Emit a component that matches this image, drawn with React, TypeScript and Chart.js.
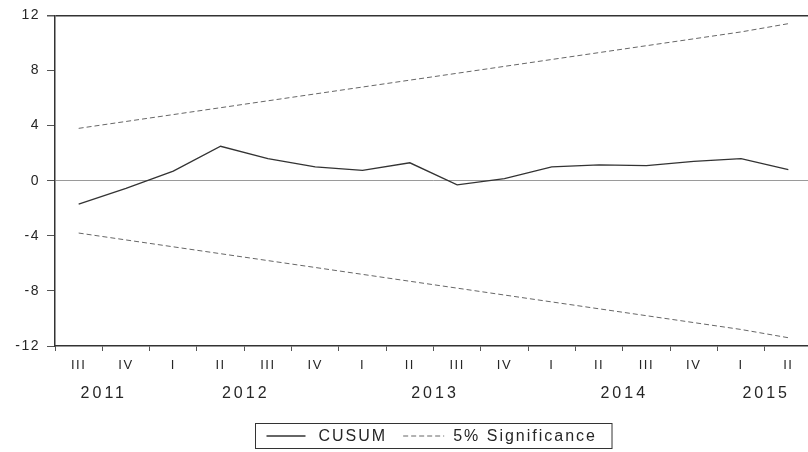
import React, { useEffect, useRef } from 'react';
import { Chart, registerables } from 'chart.js';

Chart.register(...registerables);

// ---- data ----
const years = [2011, 2011, 2012, 2012, 2012, 2012, 2013, 2013, 2013, 2013, 2014, 2014, 2014, 2014, 2015, 2015];
const quarters = ['III', 'IV', 'I', 'II', 'III', 'IV', 'I', 'II', 'III', 'IV', 'I', 'II', 'III', 'IV', 'I', 'II'];
const cusum = [-1.7, -0.55, 0.7, 2.5, 1.6, 1.0, 0.75, 1.3, -0.3, 0.15, 1.0, 1.15, 1.1, 1.4, 1.6, 0.8];
const upper5 = [3.8, 4.3, 4.8, 5.3, 5.8, 6.3, 6.8, 7.3, 7.8, 8.3, 8.8, 9.3, 9.8, 10.3, 10.8, 11.4];
const lower5 = [-3.8, -4.3, -4.8, -5.3, -5.8, -6.3, -6.8, -7.3, -7.8, -8.3, -8.8, -9.3, -9.8, -10.3, -10.8, -11.4];
const yMin = -12;
const yMax = 12;
const yStep = 4;
const seriesNames = ['CUSUM', '5% Significance'];

const FONT = '"Liberation Sans", Arial, Helvetica, sans-serif';
const TEXT = '#262626';

const eviewsPlugin = {
  id: 'eviewsStyle',
  beforeDraw(chart: any) {
    chart.ctx.letterSpacing = '1.5px';
  },
  afterDraw(chart: any) {
    const ctx = chart.ctx as CanvasRenderingContext2D;
    const xs = chart.scales.x;
    const area = chart.chartArea;
    ctx.save();
    // year row
    (ctx as any).letterSpacing = '3px';
    ctx.font = `16px ${FONT}`;
    ctx.fillStyle = TEXT;
    ctx.textAlign = 'center';
    ctx.textBaseline = 'middle';
    const groups: { year: number; first: number; last: number }[] = [];
    years.forEach((yr, i) => {
      const g = groups[groups.length - 1];
      if (g && g.year === yr) g.last = i;
      else groups.push({ year: yr, first: i, last: i });
    });
    const yearY = area.bottom + 48;
    groups.forEach((g) => {
      const px = (xs.getPixelForValue(g.first) + xs.getPixelForValue(g.last)) / 2;
      ctx.fillText(String(g.year), px + 1.5, yearY);
    });

    // legend box
    const ds = chart.data.datasets;
    (ctx as any).letterSpacing = '2px';
    ctx.font = `16px ${FONT}`;
    const w0 = ctx.measureText(seriesNames[0]).width;
    const w1 = ctx.measureText(seriesNames[1]).width;
    const padL = 11, lineW0 = 39, gap = 13, itemGap = 16, lineW1 = 41, gap2 = 9, padR = 15;
    const boxW = padL + lineW0 + gap + w0 + itemGap + lineW1 + gap2 + w1 + padR;
    const boxH = 25;
    const cx = (area.left + area.right) / 2;
    const bx = Math.round(cx - boxW / 2) + 0.5;
    const by = Math.round(area.bottom + 77) + 0.5;
    ctx.lineWidth = 1;
    ctx.strokeStyle = '#333';
    ctx.setLineDash([]);
    ctx.strokeRect(bx, by, boxW, boxH);
    const my = by + boxH / 2;
    let x = bx + padL;
    // solid sample
    ctx.strokeStyle = ds[0].borderColor;
    ctx.lineWidth = ds[0].borderWidth;
    ctx.beginPath();
    ctx.moveTo(x, my);
    ctx.lineTo(x + lineW0, my);
    ctx.stroke();
    x += lineW0 + gap;
    ctx.textAlign = 'left';
    ctx.fillStyle = TEXT;
    ctx.fillText(seriesNames[0], x, my + 1);
    x += w0 + itemGap;
    ctx.strokeStyle = ds[1].borderColor;
    ctx.lineWidth = ds[1].borderWidth;
    ctx.setLineDash(ds[1].borderDash);
    ctx.beginPath();
    ctx.moveTo(x, my);
    ctx.lineTo(x + lineW1, my);
    ctx.stroke();
    ctx.setLineDash([]);
    x += lineW1 + gap2;
    ctx.fillText(seriesNames[1], x, my + 1);
    ctx.restore();
    (ctx as any).letterSpacing = '0px';
  },
};

export default function App() {
  const ref = useRef<HTMLCanvasElement | null>(null);

  useEffect(() => {
    if (!ref.current) return;
    const chart = new Chart(ref.current, {
      type: 'line',
      data: {
        labels: quarters,
        datasets: [
          {
            label: seriesNames[0],
            data: cusum,
            borderColor: '#333333',
            borderWidth: 1.3,
            pointRadius: 0,
            tension: 0,
            fill: false,
          },
          {
            label: seriesNames[1],
            data: upper5,
            borderColor: '#666666',
            borderWidth: 1,
            borderDash: [5, 3],
            pointRadius: 0,
            tension: 0,
            fill: false,
          },
          {
            label: seriesNames[1],
            data: lower5,
            borderColor: '#666666',
            borderWidth: 1,
            borderDash: [5, 3],
            pointRadius: 0,
            tension: 0,
            fill: false,
          },
        ],
      },
      options: {
        responsive: false,
        animation: false,
        devicePixelRatio: 1,
        layout: { padding: { top: 7, right: 4, bottom: 36, left: 0 } },
        plugins: {
          legend: { display: false },
          tooltip: { enabled: false },
        },
        scales: {
          x: {
            type: 'category',
            offset: true,
            grid: {
              offset: true,
              drawOnChartArea: false,
              drawTicks: true,
              tickLength: 5,
              color: '#555',
            },
            border: { display: true, color: '#333', width: 1.5 },
            ticks: {
              font: { family: FONT, size: 13 },
              color: TEXT,
              padding: 7,
              maxRotation: 0,
              autoSkip: false,
            },
            afterFit: (s: any) => {
              s.height = 70;
            },
          },
          y: {
            min: yMin,
            max: yMax,
            grid: {
              color: (c: any) =>
                c.tick && c.tick.value === 0 ? '#9a9a9a' : c.tick && c.tick.value === yMax ? '#333' : 'rgba(0,0,0,0)',
              lineWidth: (c: any) => (c.tick && c.tick.value === yMax ? 1.5 : 1),
              tickColor: '#555',
              tickLength: 8,
              drawTicks: true,
            },
            border: { display: true, color: '#333', width: 1.5 },
            ticks: {
              stepSize: yStep,
              font: { family: FONT, size: 14 },
              color: TEXT,
              padding: 7,
            },
            afterFit: (s: any) => {
              s.width = 55;
            },
          },
        },
      },
      plugins: [eviewsPlugin],
    });
    return () => chart.destroy();
  }, []);

  return (
    <div
      style={{
        position: 'fixed',
        left: 0,
        top: 0,
        width: 808,
        height: 452,
        overflow: 'hidden',
        background: '#fff',
      }}
    >
      <canvas ref={ref} width={816} height={452} style={{ display: 'block' }} />
    </div>
  );
}
